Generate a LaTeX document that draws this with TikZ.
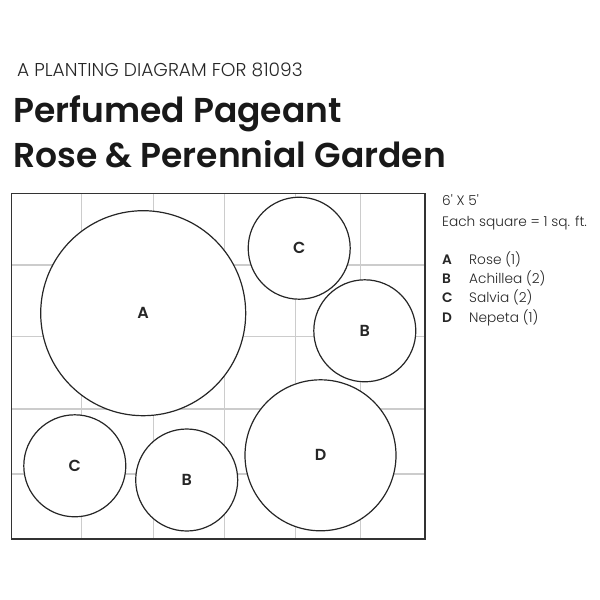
\documentclass[tikz,border=0pt]{standalone}
\usepackage{fontspec}
\setmainfont{Poppins}
\newfontfamily\titlefont{Poppins SemiBold}
\newfontfamily\lightfont{Poppins Light}
\newfontfamily\medfont{Poppins Medium}
\begin{document}
\begin{tikzpicture}[x=1pt,y=-1pt,
  gridline/.style={draw=black!20, line width=1.1pt},
  frame/.style={draw=black!80, line width=1.5pt},
  plant/.style={circle, draw=black!85, line width=1.2pt, inner sep=0pt, font=\fontsize{16}{16}\titlefont, text=black!85},
  legend/.style={anchor=base west, inner sep=0pt, font=\fontsize{13.7}{15}\lightfont, text=black!85},
  legkey/.style={anchor=base west, inner sep=0pt, font=\fontsize{13.7}{15}\titlefont, text=black!85}]
\useasboundingbox (0,0) rectangle (600,600);
% titles
\node[anchor=base west, inner sep=0pt, font=\fontsize{18.6}{18}\lightfont, text=black!85] (sub) at (17,76.7) {A PLANTING DIAGRAM FOR 81093};
\node[anchor=base west, inner sep=0pt, font=\fontsize{34.5}{35}\titlefont, text=black!90] (t1) at (13,122.7) {Perfumed Pageant};
\node[anchor=base west, inner sep=0pt, font=\fontsize{34.5}{35}\titlefont, text=black!90] (t2) at (13,167.3) {Rose \& Perennial Garden};
% grid
\foreach \x in {81.7,153.3,224.3,295.7,360.7} \draw[gridline] (\x,193.3) -- (\x,539);
\foreach \y in {265,336.7,409,474} \draw[gridline] (11.7,\y) -- (425,\y);
\draw[frame] (11.7,193.3) rectangle (425,539);
% plants
\node[plant, fill=white, minimum size=205pt] (A) at (143.2,313.2) {A};
\node[plant, fill=white, minimum size=102pt] (C1) at (299.2,248.2) {C};
\node[plant, fill=white, minimum size=102pt] (B1) at (364.8,330.8) {B};
\node[plant, fill=white, minimum size=102pt] (C2) at (74.8,465.8) {C};
\node[plant, fill=white, minimum size=102pt] (B2) at (186.7,480) {B};
\node[plant, fill=white, minimum size=151pt] (D) at (320.5,455.3) {D};
% legend
\node[legend] (dim) at (442,205.7) {6' X 5'};
\node[legend] (sq) at (442,226.7) {Each square = 1 sq. ft.};
\node[legkey] (la) at (442,264) {A};
\node[legend] (na) at (469,264) {Rose (1)};
\node[legkey] (lb) at (442,283.5) {B};
\node[legend] (nb) at (469,283.5) {Achillea (2)};
\node[legkey] (lc) at (442,302.5) {C};
\node[legend] (nc) at (469,302.5) {Salvia (2)};
\node[legkey] (ld) at (442,322) {D};
\node[legend] (nd) at (469,322) {Nepeta (1)};
\end{tikzpicture}
\end{document}
